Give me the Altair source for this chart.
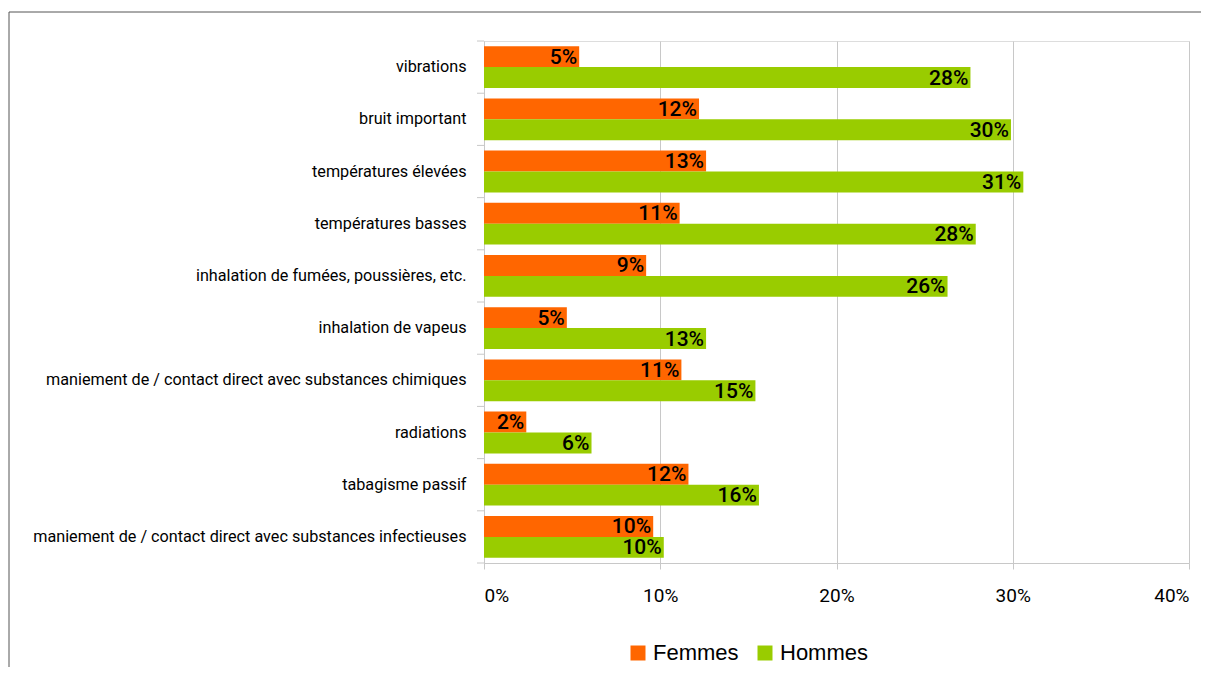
import altair as alt
import pandas as pd

categories = [
    "vibrations",
    "bruit important",
    "températures élevées",
    "températures basses",
    "inhalation de fumées, poussières, etc.",
    "inhalation de vapeus",
    "maniement de / contact direct avec substances chimiques",
    "radiations",
    "tabagisme passif",
    "maniement de / contact direct avec substances infectieuses",
]
femmes = [5.4, 12.2, 12.6, 11.1, 9.2, 4.7, 11.2, 2.4, 11.6, 9.6]
hommes = [27.6, 29.9, 30.6, 27.9, 26.3, 12.6, 15.4, 6.1, 15.6, 10.2]
series = ["Femmes", "Hommes"]
colors = ["#ff6600", "#99cc00"]
x_ticks = [0, 10, 20, 30, 40]

rows = []
for c, f, h in zip(categories, femmes, hommes):
    rows.append({"cat": c, "sexe": "Femmes", "val": f, "lab": f"{round(f)}%"})
    rows.append({"cat": c, "sexe": "Hommes", "val": h, "lab": f"{round(h)}%"})
df = pd.DataFrame(rows)
cat_df = pd.DataFrame({"cat": categories})

NARROW = "Roboto"
SANS = "'Liberation Sans', Arial, sans-serif"
GRID = "#c8c8c8"

y_enc = alt.Y(
    "cat:N",
    sort=categories,
    scale=alt.Scale(paddingInner=0.2, paddingOuter=0.1),
    axis=alt.Axis(
        title=None, ticks=False, domain=True, domainColor=GRID,
        labelPadding=18, labelFont=NARROW, labelFontSize=16.2,
        labelColor="#000000", labelLimit=470,
    ),
)
yoff = alt.YOffset("sexe:N", sort=series, scale=alt.Scale(paddingInner=0, paddingOuter=0))
x_enc = alt.X(
    "val:Q",
    scale=alt.Scale(domain=[0, 40]),
    axis=alt.Axis(
        title=None, values=x_ticks, labelExpr="datum.value + '%'",
        grid=True, gridColor=GRID, domainColor=GRID, tickColor=GRID,
        tickSize=6, labelPadding=17, labelFont=NARROW, labelFontSize=19,
        labelColor="#000000",
    ),
)

bars = alt.Chart(df).mark_bar().encode(
    y=y_enc,
    yOffset=yoff,
    x=x_enc,
    color=alt.Color(
        "sexe:N",
        sort=series,
        scale=alt.Scale(domain=series, range=colors),
        legend=alt.Legend(
            orient="none", legendX=143, legendY=601, direction="horizontal",
            title=None, symbolType="square", symbolSize=225,
            symbolStrokeWidth=0, labelFontSize=22, labelFont=SANS,
            labelColor="#000000", labelOffset=4, columnPadding=15, padding=0,
        ),
    ),
)

labels = alt.Chart(df).mark_text(
    align="right", baseline="middle", dx=-2, dy=1, font=NARROW, fontSize=21,
    fontWeight=500, color="#000000"
).encode(
    y=alt.Y("cat:N", sort=categories),
    yOffset=alt.YOffset("sexe:N", sort=series),
    x=alt.X("val:Q"),
    text="lab:N",
)

yticks = alt.Chart(cat_df).mark_rule(color=GRID, yOffset=-5.2).encode(
    y=alt.Y("cat:N", sort=categories, bandPosition=0),
    x=alt.value(-7),
    x2=alt.value(0),
)
ytick_last = alt.Chart(pd.DataFrame({"a": [0]})).mark_rule(color=GRID).encode(
    y=alt.value(522), x=alt.value(-7), x2=alt.value(0)
)

frame = alt.Chart(pd.DataFrame({"a": [0]})).mark_rect(
    fillOpacity=0, stroke="#555555", strokeWidth=1
).encode(
    x=alt.value(-475), x2=alt.value(1500), y=alt.value(-29), y2=alt.value(1500)
)

chart = alt.layer(frame, bars, labels, yticks, ytick_last).properties(
    width=705, height=522,
    autosize=alt.AutoSizeParams(type="none"),
    padding={"left": 476, "top": 33, "right": 12, "bottom": 104},
).configure_view(stroke=GRID).configure(background="white")

chart.save("out.html", embed_options={"renderer": "svg", "actions": False})
